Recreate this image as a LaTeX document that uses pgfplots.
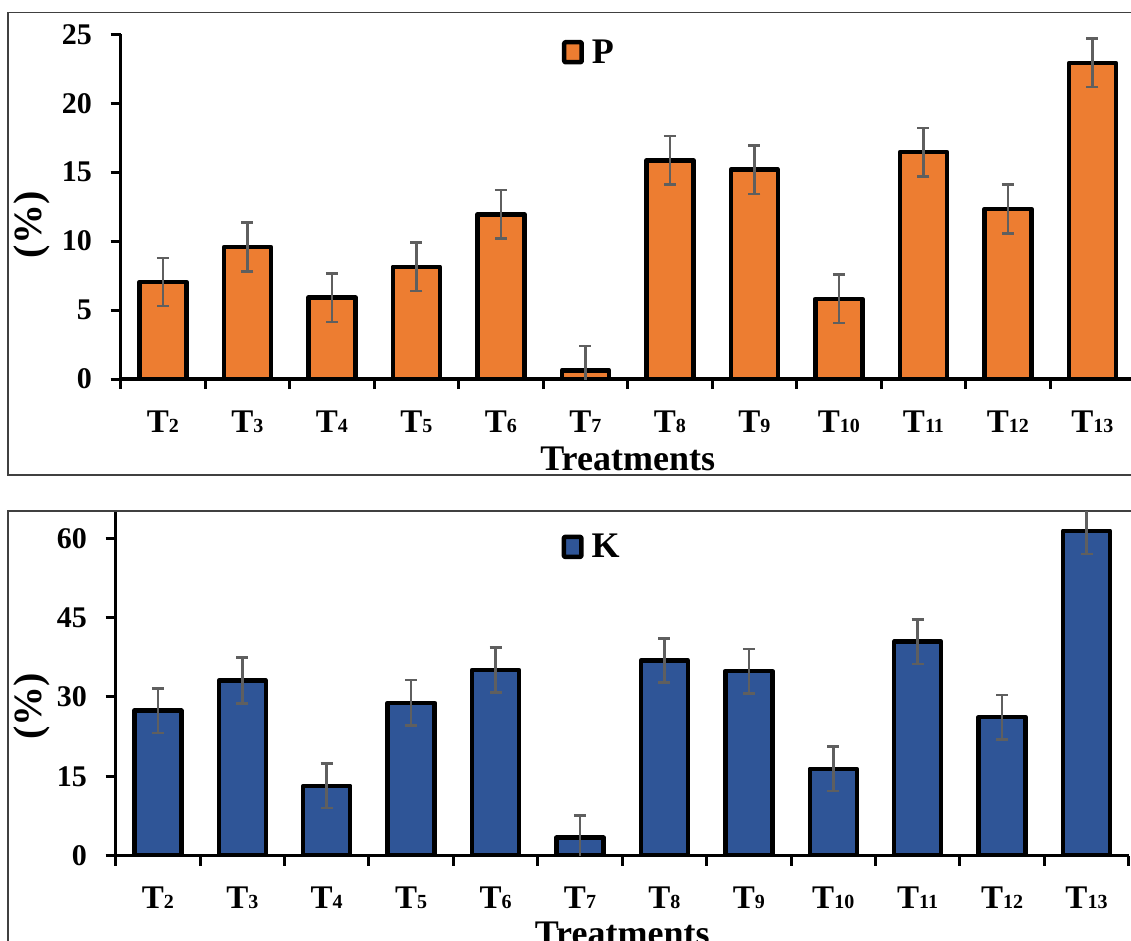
\documentclass[border=0pt]{standalone}
\usepackage{fontspec}
\setmainfont{Liberation Serif}
\usepackage{pgfplots}
\usepackage{pgfplotstable}
\pgfplotsset{compat=1.18}
\definecolor{porange}{HTML}{ED7D31}
\definecolor{kblue}{HTML}{2F5597}
\definecolor{errgray}{HTML}{5F5F5F}
\definecolor{framegray}{HTML}{404040}

\pgfplotstableread{
x y e
0 7.03 1.75
1 9.57 1.78
2 5.90 1.76
3 8.14 1.76
4 11.94 1.76
5 0.63 1.76
6 15.86 1.76
7 15.18 1.76
8 5.82 1.76
9 16.46 1.76
10 12.33 1.76
11 22.92 1.76
}\Pdata

\pgfplotstableread{
x y e
0 27.4 4.2
1 33.1 4.35
2 13.2 4.2
3 28.9 4.3
4 35.1 4.25
5 3.4 4.2
6 36.9 4.2
7 34.9 4.2
8 16.4 4.2
9 40.45 4.2
10 26.2 4.2
11 61.4 4.35
}\Kdata

\newcommand{\Tl}[1]{T{\fontsize{20pt}{20pt}\selectfont #1}}

\pgfplotsset{
  panel/.style={
    scale only axis,
    xmin=-0.5, xmax=11.5, ymin=0,
    enlargelimits=false,
    ybar, bar width=47pt,
    axis x line*=bottom, axis y line*=left,
    axis line style={line width=3.5pt, black},
    tick align=outside,
    tick style={line width=3pt, black},
    major tick length=10pt, minor tick length=10pt,
    xtick={0,...,11},
    minor xtick={-0.5,0.5,...,11.5},
    major x tick style={draw=none},
    xticklabels={\Tl{2},\Tl{3},\Tl{4},\Tl{5},\Tl{6},\Tl{7},\Tl{8},\Tl{9},\Tl{10},\Tl{11},\Tl{12},\Tl{13}},
    xticklabel style={font=\fontsize{33pt}{33pt}\selectfont\bfseries, anchor=base, inner sep=0pt, yshift=-43pt},
    yticklabel style={font=\fontsize{30pt}{30pt}\selectfont\bfseries, anchor=east, inner sep=0pt, xshift=-18.7pt},
    /pgf/number format/assume math mode=true,
    xlabel={Treatments},
    xlabel style={font=\fontsize{36pt}{36pt}\selectfont\bfseries, anchor=base, inner sep=0pt},
    ylabel={(\%)},
    ylabel style={font=\fontsize{40pt}{40pt}\selectfont\bfseries, anchor=center, inner sep=0pt},
    legend style={draw=none, fill=none, anchor=north west, inner sep=0pt,
      font=\fontsize{36pt}{36pt}\selectfont\bfseries,
      nodes={inner sep=0pt}, /tikz/every odd column/.append style={column sep=8pt}},
    legend image code/.code={\draw[#1, line width=4.5pt, draw=black, rounded corners=1pt] (0pt,-10pt) rectangle (17.5pt,10pt);},
    clip=true,
  },
  errstyle/.style={
    error bars/.cd, y dir=both, y explicit,
    error bar style={line width=2.5pt, draw=errgray},
    error mark options={rotate=90, line width=2.5pt, draw=errgray, mark size=6pt},
  },
}

\begin{document}
\begin{tikzpicture}[x=1pt,y=1pt]
\path[use as bounding box] (0,0) rectangle (1131,-941);
\clip (0,0) rectangle (1131,-941);
\draw[line width=1.3pt, framegray] (8,-12.5) rectangle (1160,-475);
\draw[line width=1.3pt, framegray] (8,-511) rectangle (1160,-980);

\begin{axis}[panel,
  at={(120.7pt,-379pt)}, anchor=south west,
  width=1014pt, height=344.7pt,
  ymax=25, ytick={0,5,...,25},
  xlabel style={at={(axis description cs:0.5,-0.264)}},
  ylabel style={at={(axis description cs:-0.0875,0.447)}},
  legend style={at={(axis description cs:0.435,0.985)}},
]
\addplot[fill=porange, draw=black, line width=4.5pt, line join=round, errstyle]
  table[x=x, y=y, y error=e] {\Pdata};
\addlegendentry{P}
\end{axis}

\begin{axis}[panel,
  at={(115.7pt,-855.7pt)}, anchor=south west,
  width=1013pt, height=343.9pt,
  ymax=65, ytick={0,15,...,60},
  xlabel style={at={(axis description cs:0.5,-0.26)}},
  ylabel style={at={(axis description cs:-0.0826,0.435)}},
  legend style={at={(axis description cs:0.44,0.935)}},
]
\addplot[fill=kblue, draw=black, line width=4.5pt, line join=round, errstyle]
  table[x=x, y=y, y error=e] {\Kdata};
\addlegendentry{K}
\end{axis}
\end{tikzpicture}
\end{document}
